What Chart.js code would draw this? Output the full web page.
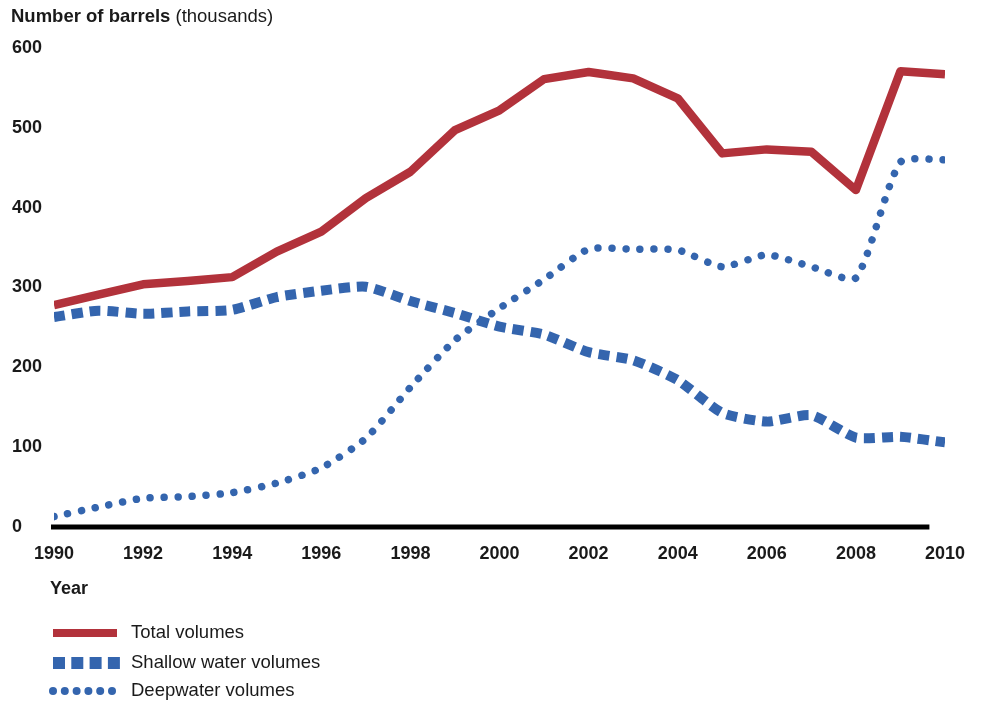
<!DOCTYPE html>
<html>
<head>
<meta charset="utf-8">
<script src="https://cdn.jsdelivr.net/npm/chart.js@4.4.1/dist/chart.umd.min.js"></script>
<style>
html,body{margin:0;padding:0;background:#fff;}
#wrap{width:983px;height:702px;}
</style>
</head>
<body>
<div id="wrap"><canvas id="c" width="983" height="702"></canvas></div>
<script>
const years = [1990,1991,1992,1993,1994,1995,1996,1997,1998,1999,2000,2001,2002,2003,2004,2005,2006,2007,2008,2009,2010];
const totalVolumes   = [278,291,304,308,313,345,370,412,445,497,522,561,570,562,537,468,473,470,422,571,567];
const shallowVolumes = [263,271,267,270,272,288,296,301,283,268,251,241,219,209,184,143,132,140,112,113,106];
const deepVolumes    = [13,25,36,38,43,55,74,111,175,234,274,310,348,348,347,326,341,326,312,457,460];
const yTicks = [0,100,200,300,400,500,600];
const xTickYears = [1990,1992,1994,1996,1998,2000,2002,2004,2006,2008,2010];
const titleBold = 'Number of barrels';
const titleNormal = '(thousands)';
const xAxisTitle = 'Year';
const seriesNames = ['Total volumes','Shallow water volumes','Deepwater volumes'];

const RED = '#b2323b';
const BLUE = '#3465ae';
const FONT = '"Liberation Sans", Arial, Helvetica, sans-serif';

const toPts = (arr) => arr.map((v,i)=>({x:years[i], y:v}));

const decor = {
  id: 'decor',
  beforeDatasetsDraw(chart){
    const ctx = chart.ctx;
    const xs = chart.scales.x, ys = chart.scales.y;
    ctx.save();
    ctx.strokeStyle = '#000';
    ctx.lineWidth = 5;
    ctx.lineCap = 'butt';
    const y0 = ys.getPixelForValue(0);
    ctx.beginPath();
    ctx.moveTo(xs.getPixelForValue(1990) - 3, y0);
    ctx.lineTo(xs.getPixelForValue(2009.65), y0);
    ctx.stroke();
    ctx.restore();
  },
  afterDraw(chart){
    const ctx = chart.ctx;
    ctx.save();
    ctx.fillStyle = '#1a1a1a';
    ctx.textBaseline = 'middle';
    ctx.textAlign = 'left';
    ctx.font = 'bold 18.5px ' + FONT;
    ctx.fillText(titleBold, 11, 17);
    const w = ctx.measureText(titleBold + ' ').width;
    ctx.font = '18.5px ' + FONT;
    ctx.fillText(titleNormal, 11 + w, 17);
    ctx.font = 'bold 18px ' + FONT;
    ctx.fillText(xAxisTitle, 50, 589);

    // legend
    const rows = [633, 663, 691];
    chart.data.datasets.forEach((ds, i) => {
      const y = rows[i];
      ctx.save();
      ctx.strokeStyle = ds.borderColor;
      if (i === 0) {
        ctx.lineWidth = 8; ctx.lineCap = 'butt';
        ctx.beginPath(); ctx.moveTo(53, y); ctx.lineTo(117, y); ctx.stroke();
      } else if (i === 1) {
        ctx.fillStyle = ds.borderColor;
        for (let k = 0; k < 4; k++) ctx.fillRect(53 + k*18.3, y - 6, 12, 12);
      } else {
        ctx.fillStyle = ds.borderColor;
        for (let k = 0; k < 6; k++) { ctx.beginPath(); ctx.arc(53 + k*11.8, y, 4, 0, Math.PI*2); ctx.fill(); }
      }
      ctx.restore();
      ctx.fillStyle = '#1a1a1a';
      ctx.font = '18.5px ' + FONT;
      ctx.fillText(ds.label, 131, y);
    });
    ctx.restore();
  }
};

new Chart(document.getElementById('c'), {
  type: 'line',
  data: {
    datasets: [
      { label: seriesNames[0], data: toPts(totalVolumes), borderColor: RED, borderWidth: 8.5, borderCapStyle: 'butt', borderJoinStyle: 'round', pointRadius: 0, tension: 0, fill: false },
      { label: seriesNames[1], data: toPts(shallowVolumes), borderColor: BLUE, borderWidth: 10, borderDash: [11, 7], borderCapStyle: 'butt', pointRadius: 0, tension: 0.2, fill: false },
      { label: seriesNames[2], data: toPts(deepVolumes), borderColor: BLUE, borderWidth: 7.5, borderDash: [0.01, 14], borderCapStyle: 'round', pointRadius: 0, tension: 0.2, fill: false }
    ]
  },
  options: {
    responsive: false,
    animation: false,
    events: [],
    layout: { padding: { left: 12, right: 38, top: 48, bottom: 0 } },
    plugins: { legend: { display: false }, tooltip: { enabled: false }, title: { display: false } },
    scales: {
      x: {
        type: 'linear', min: 1990, max: 2010,
        grid: { display: false, drawTicks: false },
        border: { display: false },
        afterBuildTicks: (s) => { s.ticks = xTickYears.map(v => ({ value: v })); },
        ticks: { callback: (v) => String(v), padding: 16, maxRotation: 0, autoSkip: false, color: '#1a1a1a', font: { family: FONT, size: 18, weight: 'bold' } },
        afterFit: (s) => { s.height = 175; }
      },
      y: {
        min: 0, max: 600,
        grid: { display: false, drawTicks: false },
        border: { display: false },
        afterBuildTicks: (s) => { s.ticks = yTicks.map(v => ({ value: v })); },
        ticks: { crossAlign: 'far', padding: 0, color: '#1a1a1a', font: { family: FONT, size: 18, weight: 'bold' } },
        afterFit: (s) => { s.width = 42; }
      }
    }
  },
  plugins: [decor]
});
</script>
</body>
</html>
